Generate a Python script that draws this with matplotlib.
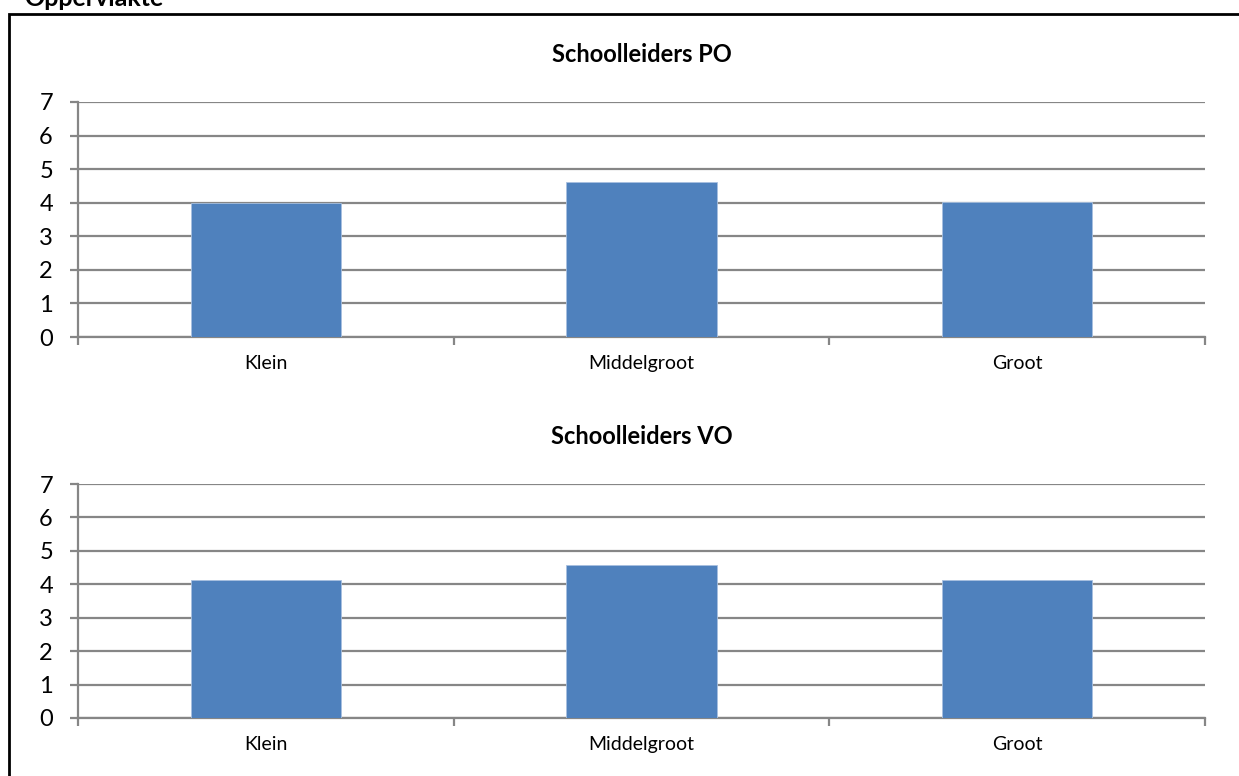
import matplotlib.pyplot as plt
from matplotlib.patches import Rectangle

categories = ['Klein', 'Middelgroot', 'Groot']
po_values = [4.0, 4.61, 4.02]
vo_values = [4.13, 4.58, 4.13]
titles = ['Schoolleiders PO', 'Schoolleiders VO']
y_ticks = [0, 1, 2, 3, 4, 5, 6, 7]

plt.rcParams['font.family'] = ['Lato', 'DejaVu Sans']

W, H = 1239, 776
fig = plt.figure(figsize=(W / 100, H / 100), dpi=100)

# outer frame (runs off the right and bottom edge)
fig.patches.append(Rectangle((8.5 / W, -0.1), 1.2, 1 - 13.5 / H + 0.1,
                             transform=fig.transFigure, fill=False,
                             edgecolor='black', linewidth=2))

# heading, cut off by the top edge like in the source document
fig.text(24 / W, 1 - 6 / H, 'Oppervlakte', fontsize=18, fontweight='bold',
         va='baseline', ha='left')

grey = '#868686'
bar_color = '#4f81bd'

panels = [(po_values, 102, 337), (vo_values, 484, 718)]
for (values, top, bottom), title in zip(panels, titles):
    left, right = 78, 1205
    ax = fig.add_axes([left / W, 1 - bottom / H, (right - left) / W, (bottom - top) / H])
    x = list(range(len(categories)))
    ax.bar(x, values, width=0.4, color=bar_color, edgecolor='#a8c0e0',
           linewidth=0.6, zorder=3)
    ax.set_xlim(-0.5, len(categories) - 0.5)
    ax.set_ylim(0, 7)
    ax.set_yticks(y_ticks)
    ax.set_yticklabels([str(t) for t in y_ticks], fontsize=17)
    ax.yaxis.grid(True, color=grey, linewidth=1.6, zorder=0)
    ax.set_axisbelow(True)

    # category labels between boundary ticks
    ax.set_xticks([i - 0.5 for i in range(len(categories) + 1)])
    ax.set_xticklabels([])
    ax.set_xticks(x, minor=True)
    ax.set_xticklabels(categories, minor=True, fontsize=14)
    ax.tick_params(axis='x', which='minor', length=0, pad=13)
    ax.tick_params(axis='x', which='major', length=6, width=1.6, color=grey)
    ax.tick_params(axis='y', length=6, width=1.6, color=grey, pad=12)

    for side in ['top', 'right']:
        ax.spines[side].set_visible(False)
    for side in ['left', 'bottom']:
        ax.spines[side].set_color(grey)
        ax.spines[side].set_linewidth(1.6)

    ax.set_title(title, fontsize=17, fontweight='bold', pad=29)

fig.savefig('out.png', dpi=100)
